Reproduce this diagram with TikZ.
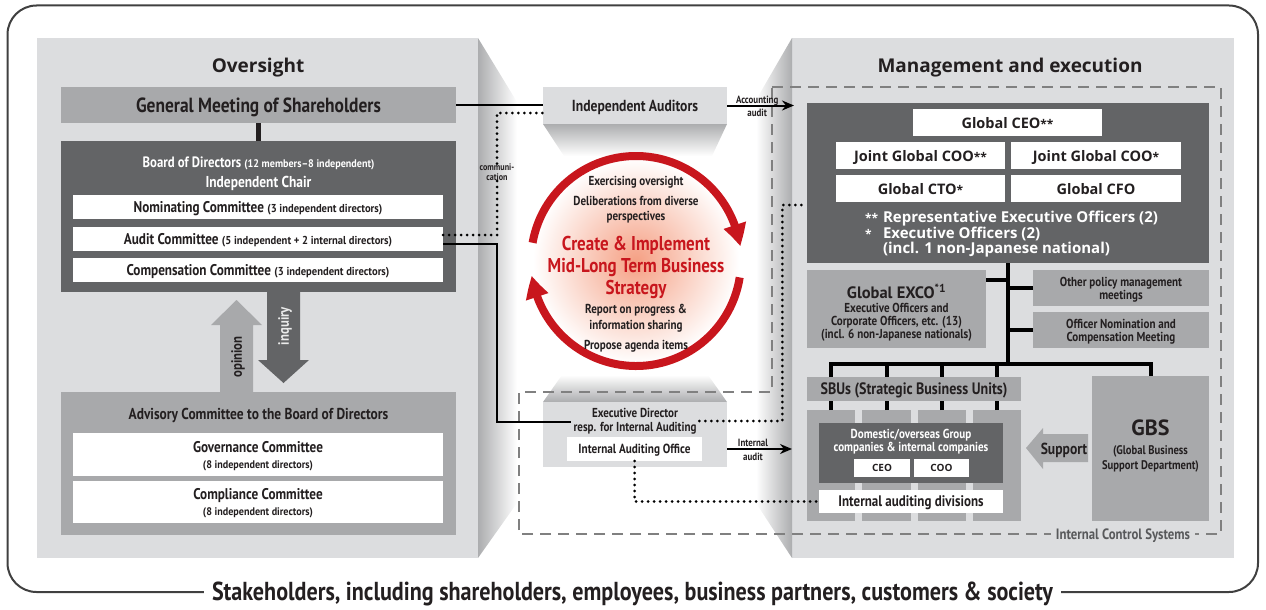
\documentclass[tikz,border=0pt]{standalone}
\usepackage{fontspec}
\setmainfont{PT Sans}
\newfontfamily\cf{PT Sans}[FakeStretch=0.85]
\newfontfamily\nf{PT Sans}[FakeStretch=0.92]
\newfontfamily\tf{PT Sans}
\newfontfamily\vf{Open Sans}
\usetikzlibrary{arrows.meta,calc,bending}
\newcommand\fsz[2]{\fontsize{#1}{#2}\selectfont}
\definecolor{panel}{RGB}{220,221,223}
\definecolor{mid}{RGB}{168,169,171}
\definecolor{dark}{RGB}{99,100,102}
\definecolor{ink}{RGB}{35,31,32}
\definecolor{ringred}{RGB}{200,22,29}
\definecolor{dashgray}{RGB}{128,128,128}
\definecolor{labgray}{RGB}{88,89,91}
\definecolor{sidegray}{RGB}{172,173,175}
\definecolor{framegray}{RGB}{64,64,64}
\definecolor{salmon}{RGB}{245,160,132}
\begin{document}
\begin{tikzpicture}[x=1pt,y=-1pt,
  every node/.style={inner sep=0pt, outer sep=0pt, text=ink, font=\cf\bfseries, text depth=0pt},
  box/.style={draw=none, align=center},
  conn/.style={draw=black, line width=2pt},
  org/.style={draw=black, line width=4pt},
  dots/.style={draw=black, line width=3pt, line cap=round, dash pattern=on 0pt off 6pt},
  icsline/.style={draw=dashgray, line width=2pt, dash pattern=on 11pt off 7pt},
  ring/.style={draw=ringred, line width=8pt, -{Triangle[width=22pt,length=22pt,bend]}},
  smalllab/.style={font=\cf\bfseries\fsz{10.5}{11}, align=center},
  wtext/.style={font=\vf\bfseries\fsz{14.5}{16}},
  title/.style={font=\vf\bfseries\fsz{19}{22}},
]
\useasboundingbox (0,0) rectangle (1266,610);
% outer frame
\draw[draw=framegray, line width=2pt, rounded corners=29pt] (7.5,5.5) rectangle (1258,592);
\node[fill=white, inner xsep=8pt, inner ysep=3pt, font=\cf\bfseries\fsz{26}{28}] (stake) at (632.5,591) {Stakeholders, including shareholders, employees, business partners, customers \& society};

% panels
\fill[panel] (37,38) rectangle (478,558);
\fill[panel] (792,38) rectangle (1234,558);
\shade[left color=sidegray, right color=white] (478,38) -- (517,102) -- (517,503) -- (478,558) -- cycle;
\shade[left color=white, right color=sidegray] (792,38) -- (756,100) -- (756,503) -- (792,558) -- cycle;
\shade[top color=sidegray, bottom color=white] (543,124) -- (727,124) -- (712,156) -- (564,156) -- cycle;
\shade[top color=white, bottom color=sidegray] (562,375) -- (708,375) -- (727,402) -- (543,402) -- cycle;

% internal control systems outline
\draw[icsline] (772,87) -- (1221,87) -- (1221,534) -- (519,534) -- (519,392) -- (772,392) -- cycle;

% ---------- left: oversight
\node[title] (ovT) at (258,65) {Oversight};
\node[box, fill=mid, minimum width=395pt, minimum height=36pt, font=\cf\bfseries\fsz{20.5}{22}] (gm) at (258.5,105) {General Meeting of Shareholders};
\node[box, fill=dark, minimum width=395pt, minimum height=151pt] (board) at (258.5,216.5) {};
\node[text=white, font=\cf\bfseries\fsz{15}{16}] (boardT) at (258.5,162) {Board of Directors {\nf\fsz{11}{12}(12 members–8 independent)}};
\node[text=white, font=\cf\bfseries\fsz{15.8}{16}] (chair) at (258.5,182) {Independent Chair};
\node[box, fill=white, minimum width=370pt, minimum height=24pt, font=\cf\bfseries\fsz{15.5}{17}] (nom) at (258,207) {Nominating Committee {\nf\fsz{11.5}{12}(3 independent directors)}};
\node[box, fill=white, minimum width=370pt, minimum height=24pt, font=\cf\bfseries\fsz{15.5}{17}] (audit) at (258,239) {Audit Committee {\nf\fsz{11.5}{12}(5 independent + 2 internal directors)}};
\node[box, fill=white, minimum width=370pt, minimum height=24pt, font=\cf\bfseries\fsz{15.5}{17}] (comp) at (258,270) {Compensation Committee {\nf\fsz{11.5}{12}(3 independent directors)}};
\draw[draw=ink, line width=5pt] (gm.south) -- (board.north);

% inquiry / opinion arrows
\fill[dark] (267,292) -- (300,292) -- (300,360) -- (309,360) -- (283.5,383) -- (258,360) -- (267,360) -- cycle;
\fill[mid] (220,392) -- (220,325) -- (211,325) -- (236.5,300) -- (262,325) -- (253,325) -- (253,392) -- cycle;
\node[rotate=90, text=white!92!black, font=\cf\bfseries\fsz{15}{16}] (inq) at (283.5,326) {inquiry};
\node[rotate=90, font=\cf\bfseries\fsz{15}{16}] (opi) at (236.5,357) {opinion};

\node[box, fill=mid, minimum width=395pt, minimum height=143pt] (adv) at (258.5,463.5) {};
\node[font=\cf\bfseries\fsz{15.8}{17}] (advT) at (258.5,414) {Advisory Committee to the Board of Directors};
\node[box, fill=white, minimum width=370pt, minimum height=43pt, font=\cf\bfseries\fsz{15.5}{16}] (gov) at (258,454.5) {Governance Committee\\{\nf\fsz{11}{16}(8 independent directors)}};
\node[box, fill=white, minimum width=370pt, minimum height=42pt, font=\cf\bfseries\fsz{15.5}{16}] (compl) at (258,502) {Compliance Committee\\{\nf\fsz{11}{16}(8 independent directors)}};

% ---------- centre
\node[box, fill=panel, minimum width=184pt, minimum height=37pt, font=\cf\bfseries\fsz{16}{17}] (ia) at (635,105.5) {Independent Auditors};
\node[box, fill=panel, minimum width=184pt, minimum height=65pt] (ed) at (635,434.5) {};
\node[align=center, font=\cf\bfseries\fsz{13}{14}, inner xsep=3pt] (edT) at (635,420) {Executive Director\\resp. for Internal Auditing};
\node[box, fill=white, minimum width=135pt, minimum height=24pt, font=\cf\bfseries\fsz{13.2}{15}] (iao) at (634.5,449) {Internal Auditing Office};

\coordinate (cc) at (636,261);
\shade[inner color=salmon, outer color=white] (cc) circle[radius=103];
\draw[ring] (cc) ++(190:105) arc[start angle=190, end angle=352, radius=105];
\draw[ring] (cc) ++(9:105) arc[start angle=9, end angle=172, radius=105];
\node[font=\cf\bfseries\fsz{13}{15}] (c1) at (636,181) {Exercising oversight};
\node[align=center, font=\cf\bfseries\fsz{13}{15}] (c2) at (636,208.5) {Deliberations from diverse\\perspectives};
\node[align=center, text=ringred, font=\cf\bfseries\fsz{20}{22}] (c3) at (636,265) {Create \& Implement\\Mid-Long Term Business\\Strategy};
\node[align=center, font=\cf\bfseries\fsz{13}{16}] (c4) at (636,317) {Report on progress \&\\information sharing};
\node[font=\cf\bfseries\fsz{13}{15}] (c5) at (636,345) {Propose agenda items};

% ---------- right: management and execution
\node[title] (meT) at (1010,65) {Management and execution};
\node[box, fill=dark, minimum width=402pt, minimum height=160pt] (exec) at (1008,183) {};
\node[box, fill=white, minimum width=189pt, minimum height=27pt, wtext] (ceo) at (1007.5,122.5) {Global CEO{\fsz{12}{12}**}};
\node[box, fill=white, minimum width=169pt, minimum height=27pt, wtext] (coo1) at (920.5,155.5) {Joint Global COO{\fsz{12}{12}**}};
\node[box, fill=white, minimum width=170pt, minimum height=27pt, wtext] (coo2) at (1096,155.5) {Joint Global COO{\fsz{12}{12}*}};
\node[box, fill=white, minimum width=169pt, minimum height=27pt, wtext] (cto) at (920.5,188.5) {Global CTO{\fsz{12}{12}*}};
\node[box, fill=white, minimum width=170pt, minimum height=27pt, wtext] (cfo) at (1096,188.5) {Global CFO};
\node[anchor=west, align=left, text=white, font=\vf\bfseries\fsz{15}{15.5}] (notes) at (865,232.5) {\makebox[18pt][l]{\fsz{12}{12}**}Representative Executive Officers (2)\\\makebox[18pt][l]{\fsz{12}{12}*}Executive Officers (2)\\\makebox[18pt][l]{}(incl. 1 non-Japanese national)};

\node[box, fill=mid, minimum width=179pt, minimum height=78pt] (exco) at (896.5,309) {};
\node[font=\tf\bfseries\fsz{16.5}{18}] (excoT) at (896.5,291) {Global EXCO\textsuperscript{*1}};
\node[align=center, font=\cf\bfseries\fsz{13}{13}] (excoS) at (896.5,321) {Executive Officers and\\Corporate Officers, etc. (13)\\(incl. 6 non-Japanese nationals)};
\node[box, fill=mid, minimum width=176pt, minimum height=36pt, font=\cf\bfseries\fsz{13}{13}] (opm) at (1121,288) {Other policy management\\meetings};
\node[box, fill=mid, minimum width=176pt, minimum height=36pt, font=\cf\bfseries\fsz{13}{13}] (onc) at (1121,330) {Officer Nomination and\\Compensation Meeting};

\node[box, fill=mid, minimum width=214pt, minimum height=24pt, font=\cf\bfseries\fsz{16.5}{17}] (sbu) at (914,389) {SBUs (Strategic Business Units)};
\node[box, fill=mid, minimum width=48pt, minimum height=111pt] (col1) at (831,465.5) {};
\node[box, fill=mid, minimum width=49pt, minimum height=111pt] (col2) at (886.5,465.5) {};
\node[box, fill=mid, minimum width=48pt, minimum height=111pt] (col3) at (942,465.5) {};
\node[box, fill=mid, minimum width=48pt, minimum height=111pt] (col4) at (997,465.5) {};
\node[box, fill=dark, minimum width=184pt, minimum height=60pt] (dom) at (911,453) {};
\node[align=center, text=white, font=\cf\bfseries\fsz{13}{13}] (domT) at (911,440.5) {Domestic/overseas Group\\companies \& internal companies};
\node[box, fill=white, minimum width=56pt, minimum height=18pt, font=\vf\bfseries\fsz{10}{11}] (ceoS) at (882,468) {CEO};
\node[box, fill=white, minimum width=55pt, minimum height=18pt, font=\vf\bfseries\fsz{10}{11}] (cooS) at (941.5,468) {COO};
\node[box, fill=white, minimum width=184pt, minimum height=23pt, font=\cf\bfseries\fsz{15.3}{16}] (iad) at (911,501.5) {Internal auditing divisions};

\node[box, fill=mid, minimum width=117pt, minimum height=145pt] (gbs) at (1150.5,448.5) {};
\node[font=\tf\bfseries\fsz{22}{24}] (gbsT) at (1150.5,428) {GBS};
\node[align=center, font=\cf\bfseries\fsz{12.5}{15}] (gbsS) at (1150.5,457.5) {(Global Business\\Support Department)};
\fill[mid] (1026,448) -- (1043,428) -- (1043,434) -- (1088,434) -- (1088,462) -- (1043,462) -- (1043,469) -- cycle;
\node[font=\cf\bfseries\fsz{16}{16}] (supT) at (1064,449) {Support};

% org lines
\coordinate (bus) at (1008,364);
\draw[org] (exec.south) -- (bus);
\draw[org] ([yshift=29pt]exco.east) -- ([yshift=29pt]exco.east -| bus);
\draw[org] (opm.west) -- (opm.west -| bus);
\draw[org] (onc.west) -- (onc.west -| bus);
\draw[org] (col1.north |- sbu.north) -- (col1.north |- bus) -- (gbs.north |- bus) -- (gbs.north);
\draw[org] (col2.north |- bus) -- (col2.north |- sbu.north);
\draw[org] (col3.north |- bus) -- (col3.north |- sbu.north);
\draw[org] (col4.north |- bus) -- (col4.north |- sbu.north);
\foreach \c in {col1,col2,col3,col4} \draw[org] (\c.north) -- (\c.north |- sbu.south);

% connectors
\draw[conn] (gm.east) -- (gm.east -| ia.west);
\node[smalllab, font=\cf\bfseries\fsz{9.5}{10}] (comm) at (497,172) {communi-\\cation};
\draw[dots] ([yshift=4pt]audit.east) -| (comm.south);
\draw[dots] (comm.north) |- ([yshift=-7.5pt]ia.west);
\draw[conn] ([yshift=-5pt]audit.east) -- ++(54,0) |- ([yshift=-2pt]edT.west);
\draw[dots] ([yshift=-1pt]edT.east) -- ++(83,0) |- ([yshift=-22pt]exec.west);
\draw[dots] (iao.south) |- (iad.west);
\draw[conn, -{Stealth[length=12pt,width=10pt]}] (ia.east) -- ++(67,0)
  node[pos=0.45, above=2pt, smalllab] (accT) {Accounting}
  node[pos=0.45, below=4pt, smalllab] (accA) {audit};
\draw[conn, -{Stealth[length=12pt,width=10pt]}] ([yshift=-14.5pt]ed.east) -- ++(65,0)
  node[pos=0.4, above=3pt, smalllab] (intT) {Internal}
  node[pos=0.4, below=4pt, smalllab] (intA) {audit};

\node[fill=panel, inner xsep=5pt, inner ysep=2pt, text=labgray, font=\cf\bfseries\fsz{15}{16}] (icsT) at (1123,534) {Internal Control Systems};
\end{tikzpicture}
\end{document}
